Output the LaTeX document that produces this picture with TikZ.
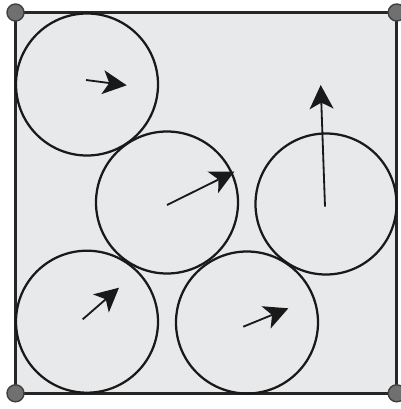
\documentclass[tikz,border=0pt]{standalone}
\usetikzlibrary{arrows.meta}
\definecolor{boxgray}{HTML}{E8E9EB}
\definecolor{dotgray}{HTML}{707070}
\begin{document}
\begin{tikzpicture}[x=0.025cm,y=-0.025cm,>={Stealth[length=17pt,width=17pt,inset=4.5pt]}]
\useasboundingbox (0,0) rectangle (401,409);
\fill[boxgray] (15.5,12.5) rectangle (396.7,393.3);
\draw[line width=2pt,black!85] (15.5,12.5) rectangle (396.7,393.3);
% disks
\draw[line width=1.6pt,black!90] (87,84.5) circle[radius=71];
\draw[line width=1.6pt,black!90] (167,202.5) circle[radius=71];
\draw[line width=1.6pt,black!90] (326,204) circle[radius=70.5];
\draw[line width=1.6pt,black!90] (87,321.7) circle[radius=71];
\draw[line width=1.6pt,black!90] (247,322.5) circle[radius=71];
% velocities
\draw[->,line width=1.3pt,black!90] (86,80)--(126.7,85.3);
\draw[->,line width=1.3pt,black!90] (167,205)--(234.3,171.7);
\draw[->,line width=1.3pt,black!90] (325,206.7)--(320.7,85);
\draw[->,line width=1.3pt,black!90] (82.7,319.3)--(119,287.7);
\draw[->,line width=1.3pt,black!90] (243.3,326.7)--(288.3,308.3);
% corners
\foreach \p in {(15.5,12.5),(396.7,12.5),(15.5,393.3),(396.7,393.3)}
  \filldraw[fill=dotgray,draw=black!75,line width=1pt] \p circle[radius=8.5];
\end{tikzpicture}
\end{document}
